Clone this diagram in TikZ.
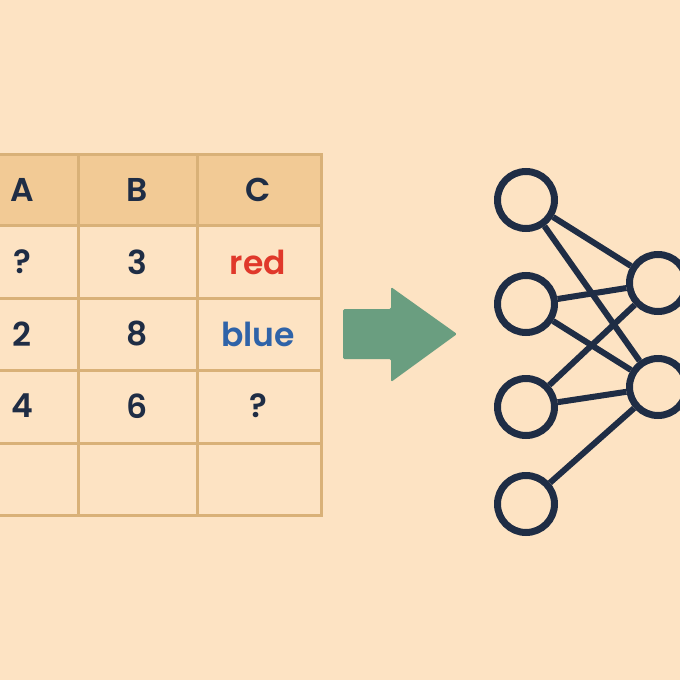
\documentclass[tikz,border=0pt]{standalone}
\usepackage{fontspec}
\setmainfont{Poppins}[UprightFont=* SemiBold, BoldFont=* Bold]
\definecolor{paper}{HTML}{FDE3C3}
\definecolor{headfill}{HTML}{F2CA95}
\definecolor{grid}{HTML}{D9B178}
\definecolor{ink}{HTML}{1F2D45}
\definecolor{redtxt}{HTML}{E0382A}
\definecolor{bluetxt}{HTML}{2F63A8}
\definecolor{arrowgreen}{HTML}{6A9E80}
\tikzset{
  cell/.style={font=\fontsize{33}{33}\selectfont, text=ink},
  neuron/.style={circle, draw=ink, line width=7pt, minimum size=57pt, inner sep=0pt},
  link/.style={draw=ink, line width=6pt}
}
\begin{document}
\begin{tikzpicture}[x=1pt,y=-1pt]
  \fill[paper] (0,0) rectangle (680,680);
  \useasboundingbox (0,0) rectangle (680,680);

  % table
  \begin{scope}
    \clip (0,0) rectangle (680,680);
    \fill[headfill] (-40,154) rectangle (321,225);
    \draw[grid, line width=3pt] (-40,154) rectangle (321,515);
    \foreach \y in {225,298,370,443} \draw[grid, line width=3pt] (-40,\y) -- (321,\y);
    \foreach \x in {78,197} \draw[grid, line width=3pt] (\x,154) -- (\x,515);
  \end{scope}

  \node[cell] (hA) at (22,190) {A};
  \node[cell] (hB) at (137,190) {B};
  \node[cell] (hC) at (258,190) {C};
  \node[cell] (a1) at (22,262) {?};
  \node[cell] (b1) at (137,262) {3};
  \node[cell, text=redtxt] (c1) at (258,262) {red};
  \node[cell] (a2) at (22,334) {2};
  \node[cell] (b2) at (137,334) {8};
  \node[cell, text=bluetxt] (c2) at (258,334) {blue};
  \node[cell] (a3) at (22,406) {4};
  \node[cell] (b3) at (137,406) {6};
  \node[cell] (c3) at (258,406) {?};

  % arrow
  \fill[arrowgreen, rounded corners=1.5pt] (343,309) -- (391,309) -- (391,287) -- (457,334)
    -- (391,382) -- (391,359) -- (343,359) -- cycle;

  % network
  \begin{scope}
    \clip (0,0) rectangle (680,680);
    \node[neuron] (in1) at (526,200) {};
    \node[neuron] (in2) at (526,304) {};
    \node[neuron] (in3) at (526,407) {};
    \node[neuron] (in4) at (526,504) {};
    \node[neuron] (out1) at (658,283) {};
    \node[neuron] (out2) at (658,387) {};

    \draw[link] (in1) -- (out1); \draw[link] (in1) -- (out2);
    \draw[link] (in2) -- (out1); \draw[link] (in2) -- (out2);
    \draw[link] (in3) -- (out1); \draw[link] (in3) -- (out2);
    \draw[link] (in4) -- (out2);
  \end{scope}
\end{tikzpicture}
\end{document}
